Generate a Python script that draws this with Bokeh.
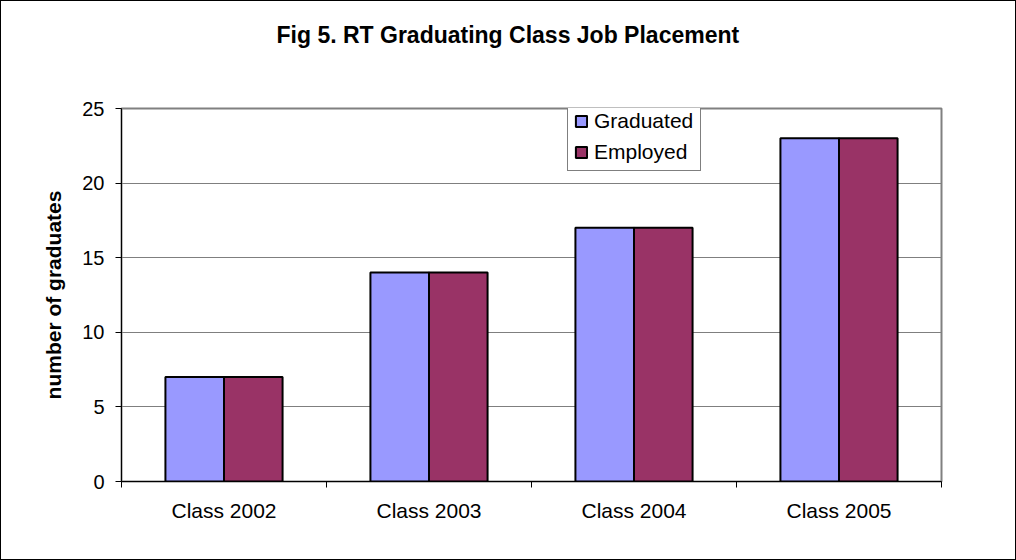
import numpy as np
from bokeh.plotting import figure
from bokeh.models import Range1d, FixedTicker, Legend, LegendItem, ColumnDataSource, Title
from bokeh.embed import file_html
from bokeh.resources import INLINE

categories = ["Class 2002", "Class 2003", "Class 2004", "Class 2005"]
graduated = [7, 14, 17, 23]
employed = [7, 14, 17, 23]
y_ticks = [0, 5, 10, 15, 20, 25]

FONT = "Liberation Sans"
centers = np.arange(len(categories)) + 0.5
bar_w = 1 / 3.5

src = ColumnDataSource(dict(
    xg=centers - bar_w / 2, xe=centers + bar_w / 2,
    grad=graduated, emp=employed, cat=categories))

p = figure(width=1016, height=560, output_backend="svg", toolbar_location=None,
           x_range=Range1d(0, len(categories)), y_range=Range1d(0, 25),
           min_border_left=120, min_border_right=76, min_border_top=107, min_border_bottom=80,
           title="Fig 5. RT Graduating Class Job Placement")
p.styles = {"border": "1px solid black", "box-sizing": "border-box"}

p.title.align = "left"
p.title.offset = 155
p.title.text_font = FONT
p.title.text_font_size = "23px"
p.title.text_font_style = "bold"
p.title.text_color = "black"
p.title.standoff = 0

# spacer between title and plot frame
spacer = Title(text=" ", text_font_size="20px", standoff=37)
p.add_layout(spacer, "above")

p.outline_line_color = "#808080"
p.outline_line_width = 2

rg = p.vbar(x="xg", top="grad", width=bar_w, source=src, fill_color="#9999FF",
            line_color="black", line_width=2)
re_ = p.vbar(x="xe", top="emp", width=bar_w, source=src, fill_color="#993366",
             line_color="black", line_width=2)

# x axis
xa = p.xaxis[0]
xa.ticker = FixedTicker(ticks=list(centers), minor_ticks=list(range(len(categories) + 1)))
xa.major_label_overrides = {float(c): n for c, n in zip(centers, categories)}
xa.major_tick_out = 0
xa.major_tick_in = 0
xa.minor_tick_out = 6
xa.minor_tick_in = 0
xa.minor_tick_line_color = "black"
xa.axis_line_color = "black"
xa.major_label_text_font = FONT
xa.major_label_text_font_size = "21px"
xa.major_label_text_color = "black"
xa.major_label_standoff = 11

# y axis
ya = p.yaxis[0]
ya.ticker = FixedTicker(ticks=y_ticks)
ya.major_tick_out = 6
ya.major_tick_in = 0
ya.minor_tick_out = 0
ya.minor_tick_in = 0
ya.axis_line_color = "black"
ya.major_tick_line_color = "black"
ya.major_label_text_font = FONT
ya.major_label_text_font_size = "20px"
ya.major_label_text_color = "black"
ya.major_label_standoff = 11
ya.axis_label = "number of graduates"
ya.axis_label_text_font = FONT
ya.axis_label_text_font_size = "21px"
ya.axis_label_text_font_style = "bold"
ya.axis_label_text_color = "black"
ya.axis_label_standoff = 14

p.xgrid.grid_line_color = None
p.ygrid.ticker = FixedTicker(ticks=y_ticks)
p.ygrid.grid_line_color = "#7f7f7f"
p.ygrid.grid_line_width = 1

legend = Legend(items=[LegendItem(label="Graduated", renderers=[rg]),
                       LegendItem(label="Employed", renderers=[re_])],
                location=(446, 310))
legend.label_text_font = FONT
legend.label_text_font_size = "21px"
legend.label_text_color = "black"
legend.glyph_width = 14
legend.glyph_height = 14
legend.label_standoff = 6
legend.label_height = 24
legend.label_width = 100
legend.spacing = 7
legend.padding = 6
legend.margin = 0
legend.border_line_color = "black"
legend.border_line_width = 1
legend.background_fill_alpha = 1
legend.background_fill_color = "white"
p.add_layout(legend, "center")

open("out.html", "w").write(file_html(p, INLINE))
